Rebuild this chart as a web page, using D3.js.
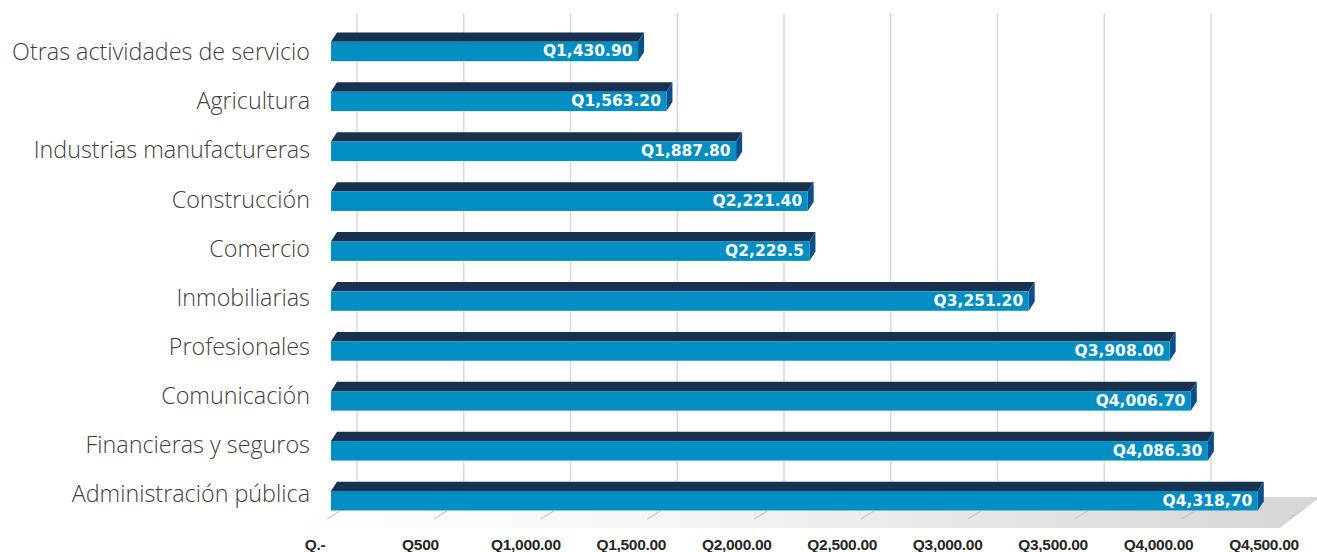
<!DOCTYPE html>
<html>
<head>
<meta charset="utf-8">
<script src="https://cdn.jsdelivr.net/npm/d3@7"></script>
<style>
  html, body { margin: 0; padding: 0; background: #fff; }
  svg { display: block; }
</style>
</head>
<body>
<svg id="chart" width="1317" height="552"></svg>
<script>
// ---- data ----
const categories = [
  "Otras actividades de servicio",
  "Agricultura",
  "Industrias manufactureras",
  "Construcción",
  "Comercio",
  "Inmobiliarias",
  "Profesionales",
  "Comunicación",
  "Financieras y seguros",
  "Administración pública"
];
const values = [1430.90, 1563.20, 1887.80, 2221.40, 2229.5, 3251.20, 3908.00, 4006.70, 4086.30, 4318.70];
const valueLabels = ["Q1,430.90", "Q1,563.20", "Q1,887.80", "Q2,221.40", "Q2,229.5", "Q3,251.20", "Q3,908.00", "Q4,006.70", "Q4,086.30", "Q4,318,70"];
const tickValues = [0, 500, 1000, 1500, 2000, 2500, 3000, 3500, 4000, 4500];
const tickLabels = ["Q.-", "Q500", "Q1,000.00", "Q1,500.00", "Q2,000.00", "Q2,500.00", "Q3,000.00", "Q3,500.00", "Q4,000.00", "Q4,500.00"];

// ---- geometry ----
const svg = d3.select("#chart");
const depthX = 6, depthY = 9.3;

const xFront = d3.scaleLinear().domain([0, 4500]).range([331, 331 + 9 * 107.3]);   // bar front plane
const xBack  = d3.scaleLinear().domain([0, 4500]).range([357, 357 + 9 * 106.75]);  // back wall
const xFloor = d3.scaleLinear().domain([0, 4500]).range([327, 327 + 9 * 106.8]);   // floor front ticks
const xLabel = d3.scaleLinear().domain([0, 4500]).range([315, 1264]);              // tick label centers

const y = d3.scaleBand().domain(categories).range([26.5, 525.7]).paddingInner(0.61).paddingOuter(0.305);
const yLabel = d3.scalePoint().domain(categories).range([52, 494]);

const floorBackY = 497, floorFrontY = 528;

// ---- floor ----
const defs = svg.append("defs");
const grad = defs.append("linearGradient").attr("id", "floorGrad")
  .attr("x1", "0%").attr("x2", "100%").attr("y1", "0%").attr("y2", "0%");
grad.append("stop").attr("offset", "0%").attr("stop-color", "#ffffff");
grad.append("stop").attr("offset", "35%").attr("stop-color", "#f6f6f6");
grad.append("stop").attr("offset", "100%").attr("stop-color", "#d6d6d6");

svg.append("path")
  .attr("d", d3.line()([
    [xBack(0) - 10, floorBackY],
    [xBack(4500) + 2, floorBackY],
    [xFloor(4500) - 8, floorFrontY],
    [xFloor(0) - 40, floorFrontY]
  ]) + "Z")
  .attr("fill", "url(#floorGrad)");

// ---- back wall gridlines ----
svg.append("g").selectAll("line")
  .data(tickValues)
  .join("line")
  .attr("x1", d => xBack(d)).attr("x2", d => xBack(d))
  .attr("y1", 13).attr("y2", floorBackY)
  .attr("stroke", "#d9d9d9").attr("stroke-width", 1.5);

// ---- floor ticks ----
svg.append("g").selectAll("line")
  .data(tickValues)
  .join("line")
  .attr("x1", d => xFloor(d)).attr("y1", 519)
  .attr("x2", d => xFloor(d) + 13).attr("y2", 511)
  .attr("stroke", "#c8c8c8").attr("stroke-width", 1.3);

// ---- tick labels ----
svg.append("g").selectAll("text")
  .data(tickValues)
  .join("text")
  .attr("x", d => xLabel(d))
  .attr("y", 550)
  .attr("text-anchor", "middle")
  .attr("font-family", "'Liberation Sans', Arial, sans-serif")
  .attr("font-weight", "bold")
  .attr("font-size", 15.5)
  .attr("fill", "#262626")
  .attr("letter-spacing", -0.3)
  .text((d, i) => tickLabels[i]);

// ---- bars ----
const data = categories.map((c, i) => ({ cat: c, value: values[i], label: valueLabels[i] }));
const bars = svg.append("g").selectAll("g").data(data).join("g");

bars.append("path") // top face
  .attr("d", d => {
    const x0 = xFront(0), x1 = xFront(d.value), yt = y(d.cat);
    return d3.line()([[x0, yt], [x1, yt], [x1 + depthX, yt - depthY], [x0 + depthX, yt - depthY]]) + "Z";
  })
  .attr("fill", "#17314f");

bars.append("path") // side face
  .attr("d", d => {
    const x1 = xFront(d.value), yt = y(d.cat), yb = yt + y.bandwidth();
    return d3.line()([[x1, yt], [x1 + depthX, yt - depthY], [x1 + depthX, yb - depthY], [x1, yb]]) + "Z";
  })
  .attr("fill", "#0b4f8a");

bars.append("rect") // front face
  .attr("x", xFront(0))
  .attr("y", d => y(d.cat))
  .attr("width", d => xFront(d.value) - xFront(0))
  .attr("height", y.bandwidth())
  .attr("fill", "#008ec3");

bars.append("text")
  .attr("x", d => xFront(d.value) - 5.5)
  .attr("y", d => y(d.cat) + 14.5)
  .attr("text-anchor", "end")
  .attr("font-family", "'DejaVu Sans', sans-serif")
  .attr("font-weight", "bold")
  .attr("font-size", 15.5)
  .attr("fill", "#ffffff")
  .text(d => d.label);

// ---- category labels ----
const catG = svg.append("g");
const catText = catG.selectAll("text")
  .data(categories)
  .join("text")
  .attr("x", 310)
  .attr("y", d => yLabel(d))
  .attr("dy", "0.35em")
  .attr("text-anchor", "end")
  .attr("font-family", "'Open Sans', sans-serif")
  .attr("font-weight", 300)
  .attr("font-size", 20)
  .attr("fill", "#404040")
  .text(d => d);

// fit longest label to reference width (~298px)
let maxW = 0;
catText.each(function () { maxW = Math.max(maxW, this.getComputedTextLength()); });
if (maxW > 0) catText.attr("font-size", 20 * 298 / maxW);
</script>
</body>
</html>
